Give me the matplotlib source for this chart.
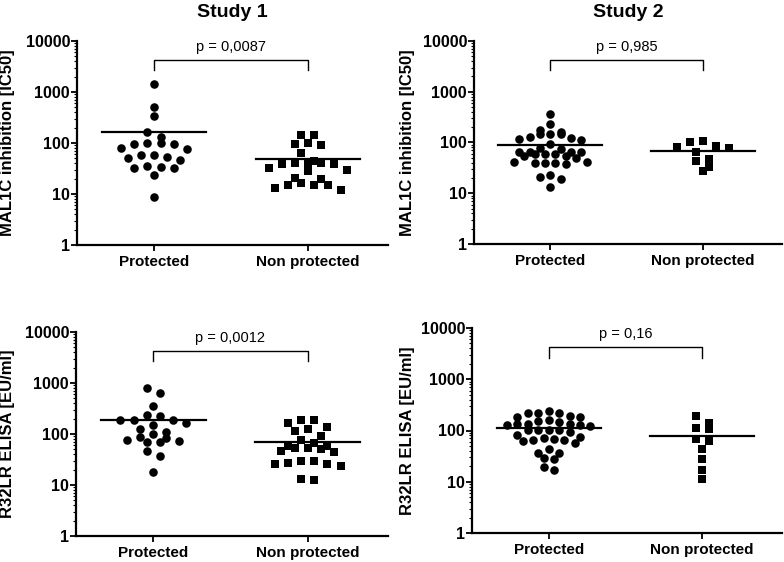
import numpy as np
import matplotlib
matplotlib.use("Agg")
import matplotlib.pyplot as plt

plt.rcParams['font.family'] = ['Liberation Sans', 'DejaVu Sans']

groups = ["Protected", "Non protected"]
titles = ["Study 1", "Study 2"]
ylabels = ["MAL1C inhibition [IC50]", "R32LR ELISA [EU/ml]"]
yticks = [1, 10, 100, 1000, 10000]

# MAL1C inhibition
s1_mal_prot = [1430, 498, 331, 168, 130, 100, 95, 95, 99, 80, 78, 58, 54, 47, 50,
               58, 34.5, 32, 32, 36, 23.7, 8.6]
s1_mal_non = [145, 146, 95, 92, 99, 64, 41, 32, 40, 28, 38, 30, 38, 41, 45, 21,
              19.5, 15, 15, 12, 13, 15, 16.8]
s2_mal_prot = [357, 227, 176, 121, 147, 112, 145, 145, 158, 115, 128, 92, 79, 75,
               66, 64, 59, 59, 55, 50, 54, 59, 64, 66, 41, 40, 38, 42, 40, 40,
               21, 23, 18.9, 13]
s2_mal_non = [109, 104, 85, 77, 80, 66, 44, 47, 32.5, 27.5]

# R32LR ELISA
s1_elisa_prot = [813, 640, 356, 234, 192, 187, 153, 168, 187, 223, 128, 102, 110,
                 82, 72, 70, 70, 78, 88, 47, 37, 18]
s1_elisa_non = [187, 187, 138, 161, 114, 128, 91, 78, 68, 58, 52, 50, 45, 47, 52,
                58, 30, 27, 25.7, 23.5, 25.7, 29, 12.5, 12.9]
s2_elisa_prot = [240, 219, 219, 219, 189, 183, 183, 158, 151, 147, 132, 132, 126,
                 120, 126, 132, 104, 101, 93, 104, 104, 83, 71, 66, 62, 66, 67,
                 76, 57, 37, 37, 44, 27.4, 29, 16.7, 19.4]
s2_elisa_non = [192, 140, 105, 114, 69, 62, 43, 28, 17, 11.1]

pvalues = ["p = 0,0087", "p = 0,985", "p = 0,0012", "p = 0,16"]


def swarm_offsets(values, binw=0.16, max_width=0.62):
    # GraphPad-like: group points into horizontal rows, spread each row
    logv = np.log10(values)
    order = np.argsort(-logv)
    rows = []
    for i in order:
        if rows and rows[-1][0] - logv[i] <= binw:
            rows[-1][1].append(i)
        else:
            rows.append([logv[i], [i]])
    step = 0.085 if len(values) <= 25 else 0.068
    widest = max(len(r[1]) for r in rows)
    if widest > 1:
        step = min(step, max_width / (widest - 1))
    offs = np.zeros(len(values))
    for _, idx in rows:
        n = len(idx)
        slots = [(k - (n - 1) / 2) * step for k in range(n)]
        slots.sort(key=lambda s: (abs(s), s))
        for s, i in zip(slots, idx):
            offs[i] = s
    return offs


W, H = 784, 562


def px_rect(l, t, r, b):
    return [l / W, 1 - b / H, (r - l) / W, (b - t) / H]


fig = plt.figure(figsize=(7.84, 5.62), dpi=100)

# (left, top, right, bottom) in pixels, y-label right edge in pixels
panels = [
    ((77, 41, 388, 245), 15, s1_mal_prot, s1_mal_non, ylabels[0], pvalues[0], titles[0]),
    ((474, 41, 782, 244), 415, s2_mal_prot, s2_mal_non, ylabels[0], pvalues[1], titles[1]),
    ((76, 332, 388, 536), 15, s1_elisa_prot, s1_elisa_non, ylabels[1], pvalues[2], None),
    ((472, 328, 782, 533), 415, s2_elisa_prot, s2_elisa_non, ylabels[1], pvalues[3], None),
]

for box, lab_px, prot, non, ylab, ptxt, title in panels:
    ax = fig.add_axes(px_rect(*box))
    for pos, (vals, marker) in enumerate([(prot, 'o'), (non, 's')], start=1):
        vals = np.array(vals, dtype=float)
        xs = pos + swarm_offsets(vals)
        ax.scatter(xs, vals, s=38, marker=marker, color='black', linewidths=0,
                   zorder=3, clip_on=False)
        m = vals.mean()
        ax.plot([pos - 0.34, pos + 0.34], [m, m], color='black', lw=1.6, zorder=4)

    ax.set_yscale('log')
    ax.set_ylim(1, 10000)
    ax.set_xlim(0.5, 2.52)
    ax.set_yticks(yticks)
    ax.set_yticklabels([str(t) for t in yticks], fontsize=11.5, fontweight='bold')
    ax.set_xticks([1, 2])
    ax.set_xticklabels(groups, fontsize=11, fontweight='bold')
    ax.tick_params(axis='y', which='major', length=4, width=1.3, pad=1)
    ax.tick_params(axis='y', which='minor', length=2, width=0.8)
    ax.tick_params(axis='x', length=4.5, width=1.3, pad=3)
    for side in ['top', 'right']:
        ax.spines[side].set_visible(False)
    for side in ['left', 'bottom']:
        ax.spines[side].set_linewidth(1.6)

    ax.set_ylabel(ylab, fontsize=12, fontweight='bold')
    ax.yaxis.set_label_coords((lab_px - box[0]) / (box[2] - box[0]), 0.5)

    # significance bracket
    ax.plot([1, 1, 2, 2], [2650, 4300, 4300, 2650], color='black', lw=1.0,
            clip_on=False)
    ax.text(1.5, 5600, ptxt, ha='center', va='bottom', fontsize=10.5)

    if title:
        ax.set_title(title, fontsize=14, fontweight='bold', pad=17)

fig.savefig("out.png", dpi=100)
